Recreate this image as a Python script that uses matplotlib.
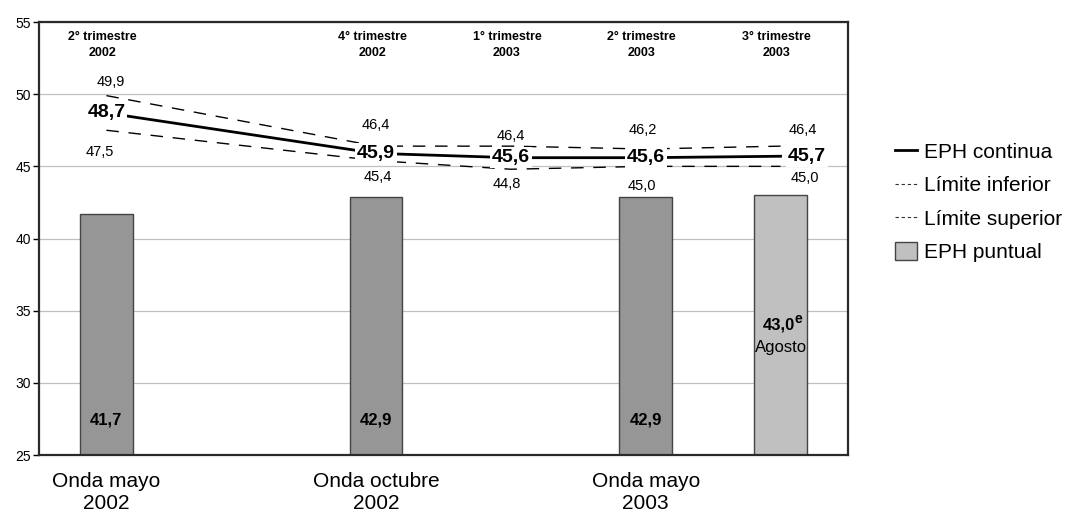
import matplotlib
matplotlib.use("Agg")
import matplotlib.pyplot as plt
from matplotlib.lines import Line2D
from matplotlib.patches import Patch

plt.rcParams['font.family'] = ['Liberation Sans', 'DejaVu Sans']

# posicion en trimestres contados desde el 2° trimestre 2002
trimestres = [0, 2, 3, 4, 5]
encabezados = ["2° trimestre\n2002", "4° trimestre\n2002", "1° trimestre\n2003",
               "2° trimestre\n2003", "3° trimestre\n2003"]
eph_continua = [48.7, 45.9, 45.6, 45.6, 45.7]
lim_superior = [49.9, 46.4, 46.4, 46.2, 46.4]
lim_inferior = [47.5, 45.4, 44.8, 45.0, 45.0]

ondas_x = [0, 2, 4]
ondas = ["Onda mayo\n2002", "Onda octubre\n2002", "Onda mayo\n2003"]
eph_puntual = [41.7, 42.9, 42.9]
agosto_x = 5
agosto_valor = 43.0

# desplazamientos de las etiquetas (pixeles)
dx_main = [0, 0, 0, 0, 26]
dx_sup = [4, 0, 0, -3, 22]
dy_sup = [31, 28, 22, 28, 26]
dx_inf = [-7, 2, -4, -4, 24]
dy_inf = [39, 24, 26, 28, 22]


def fmt(v):
    return ("%.1f" % v).replace(".", ",")


fig = plt.figure(figsize=(10.65, 5.12), dpi=100)
ax = fig.add_axes([0.0366, 0.1113, 0.7596, 0.8457])

ax.set_xlim(-0.5, 5.5)
ax.set_ylim(25, 55)
ax.set_yticks(range(25, 56, 5))
ax.set_xticks(ondas_x)
ax.set_xticklabels(ondas, fontsize=15)
ax.tick_params(axis='x', length=0, pad=12)
ax.tick_params(axis='y', labelsize=10, length=4, width=1, pad=2)
ax.yaxis.grid(True, color='#c0c0c0', lw=0.9)
ax.set_axisbelow(True)
for s in ax.spines.values():
    s.set_color('#2a2a2a')
    s.set_linewidth(1.6)

ax.bar(ondas_x, eph_puntual, width=0.39, color='#969696', edgecolor='#444444', lw=1, zorder=2)
ax.bar([agosto_x], [agosto_valor], width=0.39, color='#c0c0c0', edgecolor='#444444', lw=1, zorder=2)

for x, v in zip(ondas_x, eph_puntual):
    ax.annotate(fmt(v), xy=(x, 25), xytext=(0, 35), textcoords='offset pixels',
                ha='center', va='center', fontsize=12, fontweight='bold')
ax.annotate(fmt(agosto_valor), xy=(agosto_x, 25), xytext=(14, 130), textcoords='offset pixels',
            ha='right', va='center', fontsize=12, fontweight='bold')
ax.annotate("e", xy=(agosto_x, 25), xytext=(14, 136), textcoords='offset pixels',
            ha='left', va='center', fontsize=10, fontweight='bold')
ax.annotate("Agosto", xy=(agosto_x, 25), xytext=(0, 108), textcoords='offset pixels',
            ha='center', va='center', fontsize=12)

ax.plot(trimestres, lim_superior, color='black', lw=1, dashes=(9, 7), zorder=3)
ax.plot(trimestres, lim_inferior, color='black', lw=1, dashes=(9, 7), zorder=3)
ax.plot(trimestres, eph_continua, color='black', lw=2, zorder=4)

bb = dict(boxstyle='square,pad=0.1', fc='white', ec='none')
for i, x in enumerate(trimestres):
    ax.annotate(fmt(eph_continua[i]), xy=(x, eph_continua[i]), xytext=(dx_main[i], 0),
                textcoords='offset pixels', ha='center', va='center',
                fontsize=14, fontweight='bold', bbox=bb, zorder=5)
    ax.annotate(fmt(lim_superior[i]), xy=(x, eph_continua[i]), xytext=(dx_sup[i], dy_sup[i]),
                textcoords='offset pixels', ha='center', va='center', fontsize=10.5, zorder=5)
    ax.annotate(fmt(lim_inferior[i]), xy=(x, eph_continua[i]), xytext=(dx_inf[i], -dy_inf[i]),
                textcoords='offset pixels', ha='center', va='center', fontsize=10.5, zorder=5)
    ax.annotate(encabezados[i], xy=(x, 55), xytext=(-4, -23), textcoords='offset pixels',
                ha='center', va='center', fontsize=9, fontweight='bold', linespacing=1.45)

handles = [
    Line2D([], [], color='black', lw=2),
    Line2D([], [], color='#333333', lw=0.8, dashes=(3, 2.5)),
    Line2D([], [], color='#333333', lw=0.8, dashes=(3, 2.5)),
    Patch(facecolor='#c0c0c0', edgecolor='#444444', lw=1),
]
labels = ["EPH continua", "Límite inferior", "Límite superior", "EPH puntual"]
fig.legend(handles, labels, loc='center left', bbox_to_anchor=(0.8404, 0.605),
           frameon=False, fontsize=15, handlelength=1.05, handleheight=0.9,
           handletextpad=0.35, labelspacing=0.65, borderpad=0, borderaxespad=0)

fig.savefig("out.png", dpi=100)
